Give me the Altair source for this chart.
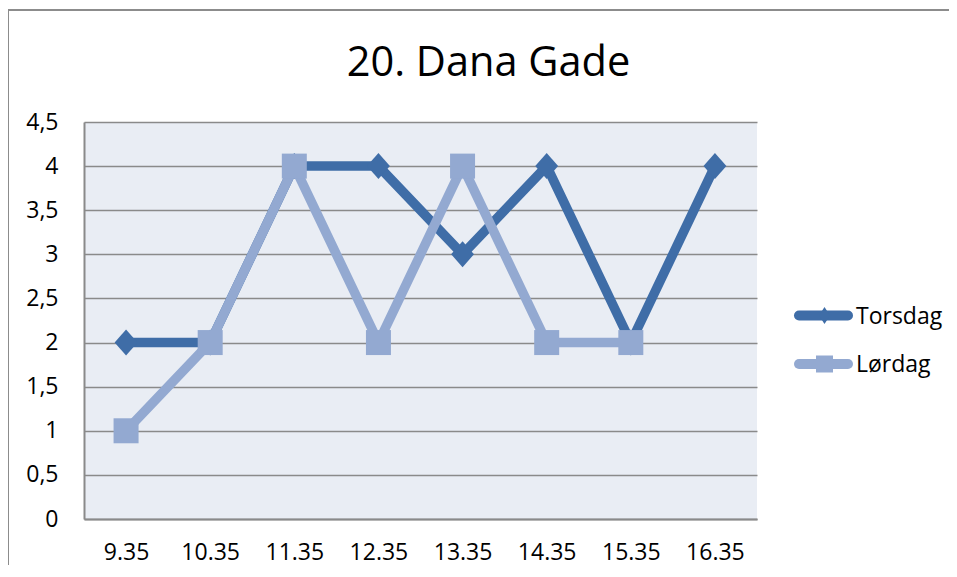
import altair as alt
import pandas as pd

times = ["9.35", "10.35", "11.35", "12.35", "13.35", "14.35", "15.35", "16.35"]
torsdag = [2, 2, 4, 4, 3, 4, 2, 4]
lordag = [1, 2, 4, 2, 4, 2, 2, None]
series = ["Torsdag", "Lørdag"]
colors = ["#3F6DA7", "#93A9D1"]
y_ticks = [0, 0.5, 1, 1.5, 2, 2.5, 3, 3.5, 4, 4.5]
title_text = "20. Dana Gade"

rows = []
for t, a, b in zip(times, torsdag, lordag):
    if a is not None:
        rows.append({"time": t, "series": "Torsdag", "value": a})
    if b is not None:
        rows.append({"time": t, "series": "Lørdag", "value": b})
df = pd.DataFrame(rows)

FONT = "Open Sans"
W, H = 673, 397
PLOT_BG = "#E9EDF4"

x_enc = alt.X(
    "time:N",
    sort=times,
    scale=alt.Scale(type="point", domain=times, padding=0.5),
    axis=alt.Axis(title=None, grid=False, ticks=False, tickSize=0, domain=True,
                  domainColor="#8a8a8a", domainWidth=2, labelAngle=0,
                  labelFont=FONT, labelFontSize=23, labelColor="#000000",
                  labelPadding=22),
)
y_enc = alt.Y(
    "value:Q",
    scale=alt.Scale(domain=[0, 4.5], nice=False, zero=True),
    axis=alt.Axis(title=None, values=y_ticks, grid=True, gridColor="#8a8a8a",
                  gridWidth=1.6, ticks=False, tickSize=0, domain=True,
                  domainColor="#8a8a8a", domainWidth=2,
                  labelFont=FONT, labelFontSize=23, labelColor="#000000",
                  labelPadding=26,
                  labelExpr="replace(toString(datum.value), '.', ',')"),
)
color_enc = alt.Color("series:N", scale=alt.Scale(domain=series, range=colors), legend=None)

diamond_path = "M0,-1L0.88,0L0,1L-0.88,0Z"
legend_diamond = "M0,-1L0.65,0L0,1L-0.65,0Z"

base = alt.Chart(df)
one = pd.DataFrame({"a": [0]})

border_top = alt.Chart(one).mark_rule(color="#8c8c8c", strokeWidth=2).encode(
    x=alt.value(-76), x2=alt.value(W + 400), y=alt.value(-112))
border_left = alt.Chart(one).mark_rule(color="#8c8c8c", strokeWidth=2).encode(
    x=alt.value(-76), y=alt.value(-113), y2=alt.value(H + 300))

title = alt.Chart(pd.DataFrame({"t": [title_text]})).mark_text(
    font=FONT, fontSize=41.5, color="#000000", align="center", baseline="alphabetic"
).encode(x=alt.value(404.5), y=alt.value(-46), text="t:N")

def series_layers(name, shape, size):
    d = base.transform_filter(alt.datum.series == name)
    ln = d.mark_line(strokeWidth=9.5, strokeCap="round", strokeJoin="round").encode(
        x=x_enc, y=y_enc, color=color_enc)
    pt = d.mark_point(filled=True, opacity=1, shape=shape, size=size, strokeWidth=0).encode(
        x=x_enc, y=y_enc, color=color_enc)
    return [ln, pt]

# legend (drawn as guide marks to the right of the plot)
legend_layers = []
leg_shapes = [legend_diamond, "square"]
for i, (name, col, shp) in enumerate(zip(series, colors, leg_shapes)):
    ly = 193.5 + 48.5 * i
    ld = alt.Chart(pd.DataFrame({"series": [name]}))
    legend_layers.append(ld.mark_rule(color=col, strokeWidth=10, strokeCap="round").encode(
        x=alt.value(715), x2=alt.value(764), y=alt.value(ly)))
    legend_layers.append(ld.mark_point(filled=True, opacity=1, shape=shp, size=289,
                                       strokeWidth=0, color=col).encode(
        x=alt.value(740.5), y=alt.value(ly)))
    legend_layers.append(ld.mark_text(font=FONT, fontSize=23, color="#000000",
                                      align="left", baseline="middle").encode(
        x=alt.value(772), y=alt.value(ly + 1), text="series:N"))

layers = [border_top, border_left, title] + series_layers("Torsdag", diamond_path, 676) + \
    series_layers("Lørdag", "square", 625) + legend_layers

chart = alt.layer(*layers).properties(
    width=W, height=H,
    background="#ffffff",
    autosize=alt.AutoSizeParams(type="none"),
    padding={"left": 76, "top": 114, "right": 192, "bottom": 46},
).configure_view(fill=PLOT_BG, stroke=PLOT_BG, strokeWidth=0)

chart.save("out.html", embed_options={"renderer": "svg", "actions": False})
